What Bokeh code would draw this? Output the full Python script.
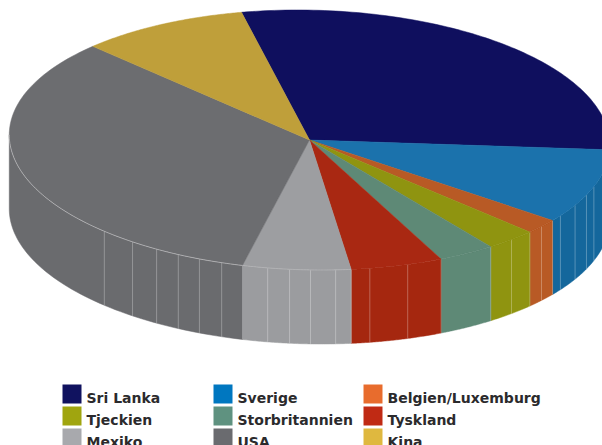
import numpy as np
from bokeh.plotting import figure
from bokeh.models import Range1d
from bokeh.core.properties import value
from bokeh.embed import file_html
from bokeh.resources import INLINE

categories = ["Sri Lanka", "Sverige", "Belgien/Luxemburg", "Tjeckien", "Storbritannien",
              "Tyskland", "Mexiko", "USA", "Kina"]
shares = [29.2, 9.42, 1.9, 2.8, 3.1, 5.0, 5.8, 33.58, 9.2]
top_colors = ["#0F0F5E", "#1B72AC", "#B85A25", "#8F9410", "#5E8976", "#A92812", "#9D9EA1", "#6C6D70", "#BF9F3A"]
side_colors = ["#0F0F5E", "#14679C", "#B85A25", "#8F9410", "#5E8976", "#A5270F", "#9B9C9F", "#6A6B6E", "#BF9F3A"]
legend_colors = ["#10125F", "#0077C0", "#E86C2D", "#A0A50F", "#5F9280", "#C02A14", "#A8A9AD", "#6A6B6F", "#DFB83F"]
seam_angles = [225.4, 218.4, 212.9, 208.2, 203.8, 199.3, 190.3, 186.1, 182.1, 177.3,
               170.7, 163.2, 140.0, 131.7, 125.6, 120.1, 115.0, 111.0]
start_angle = -10.8

AX, AY = 309, 139.5
RX, RY, SKEW = 300, 130, 12
DEPTH = 74

def rim(deg):
    a = np.radians(deg)
    s, t = np.sin(a), -np.cos(a)
    return AX + RX * s + SKEW * t, AY + RY * t

p = figure(width=602, height=445, output_backend="svg", toolbar_location=None,
           x_range=Range1d(0, 602), y_range=Range1d(445, 0), min_border=0,
           outline_line_color=None, background_fill_color="white")
p.axis.visible = False
p.grid.visible = False

edges = start_angle + np.concatenate([[0], np.cumsum(shares)]) * 3.6
# side walls
for i in range(len(categories)):
    lo2, hi2 = max(edges[i], 92.3), min(edges[i + 1], 272.3)
    if hi2 <= lo2:
        continue
    x, y = rim(np.linspace(lo2, hi2, 60))
    p.patch(np.r_[x, x[::-1]], np.r_[y, y[::-1] + DEPTH], fill_color=side_colors[i],
            line_color=side_colors[i], line_width=0.5)
# seams on the wall
sx, sy = rim(np.array(seam_angles))
p.segment(sx, sy, sx, sy + DEPTH, line_color="#FFFFFF", line_alpha=0.32, line_width=0.9)
for e in edges[1:]:
    if 92.3 < e < 272.3:
        ex, ey = rim(np.array(e))
        p.segment([ex], [ey], [ex], [ey + DEPTH], line_color="#FFFFFF", line_alpha=0.25, line_width=0.9)
# top faces
for i in range(len(categories)):
    x, y = rim(np.linspace(edges[i], edges[i + 1], 100))
    p.patch(np.r_[AX, x], np.r_[AY, y], fill_color=top_colors[i], line_color=top_colors[i], line_width=0.5)
# light rim along the front of USA and Mexiko
x, y = rim(np.linspace(edges[7], 272.3, 100))
p.line(x, y, line_color="#FFFFFF", line_alpha=0.6, line_width=0.7)
x, y = rim(np.linspace(edges[6], edges[7], 40))
p.line(x, y, line_color="#B5B5B8", line_alpha=0.8, line_width=1)

# legend
col_x = [62, 213, 363]
row_y = [384, 406, 428]
for i, name in enumerate(categories):
    cx = col_x[i % 3]
    ry = row_y[i // 3]
    p.quad(left=[cx], right=[cx + 19], top=[ry], bottom=[ry + 19], fill_color=legend_colors[i], line_color=None)
    p.text([cx + 24], [ry + 13], text=[name], text_font=value("DejaVu Sans"), text_font_style="bold",
           text_font_size="14px", text_color="#2B2A2C", text_baseline="alphabetic", text_align="left")

open("out.html", "w").write(file_html(p, INLINE))
